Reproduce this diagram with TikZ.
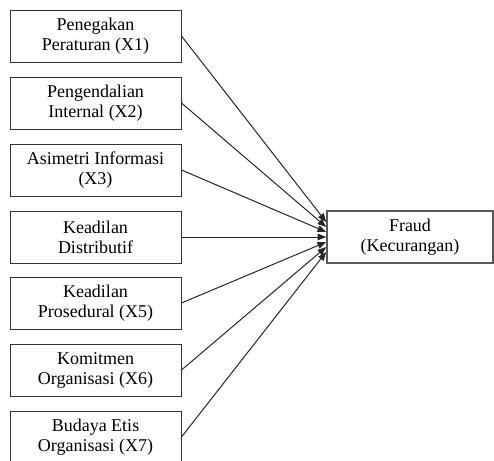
\documentclass[tikz,border=0pt]{standalone}
\usepackage{fontspec}
\setmainfont{Liberation Serif}
\usetikzlibrary{arrows.meta}
\tikzset{varbox/.style={draw=black!80,line width=0.75pt,minimum width=128.25pt,minimum height=39pt,align=center,inner sep=0pt,font=\fontsize{13.5}{15}\selectfont,execute at begin node={\rule{0pt}{13.5pt}}}}
\tikzset{link/.style={draw=black!85,line width=0.75pt,-{Triangle[length=6.5pt,width=5pt]}}}

\begin{document}
\begin{tikzpicture}[x=0.75pt,y=-0.75pt]
 \clip (0,0) rectangle (494,461);
 \node[varbox] (x1) at (95.5,36) {Penegakan\\Peraturan (X1)};
 \node[varbox] (x2) at (95.5,103) {Pengendalian\\Internal (X2)};
 \node[varbox] (x3) at (95.5,170) {Asimetri Informasi\\(X3)};
 \node[varbox] (x4) at (95.5,237) {Keadilan\\Distributif};
 \node[varbox] (x5) at (95.5,303) {Keadilan\\Prosedural (X5)};
 \node[varbox] (x6) at (95.5,370) {Komitmen\\Organisasi (X6)};
 \node[varbox] (x7) at (95.5,437) {Budaya Etis\\Organisasi (X7)};
 \node[varbox,minimum width=124.5pt,draw=black!65,line width=1.2pt] (fraud) at (410,237) {Fraud\\(Kecurangan)};
 \foreach \i in {1,...,7}{
     \coordinate (in\i) at ([yshift={(4-\i)*3.75pt}]fraud.west);
     \draw[link] (x\i.east) -- (in\i);
 }
\end{tikzpicture}
\end{document}
